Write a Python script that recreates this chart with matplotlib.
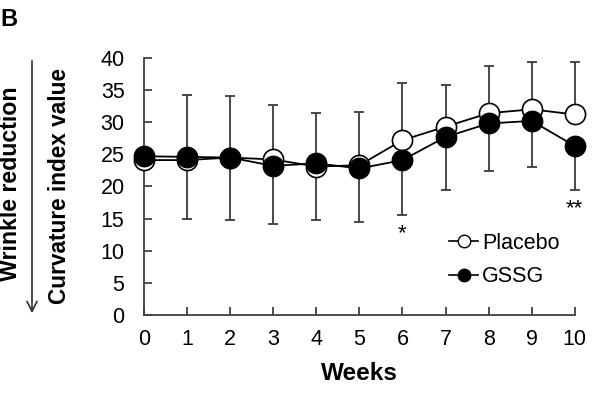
import matplotlib
matplotlib.use("Agg")
import matplotlib.pyplot as plt
from matplotlib.lines import Line2D

weeks = [0, 1, 2, 3, 4, 5, 6, 7, 8, 9, 10]
placebo = [24.1, 24.1, 24.5, 24.2, 23.1, 23.3, 27.2, 29.3, 31.4, 32.0, 31.2]
placebo_sd = [0, 10.1, 9.6, 8.5, 8.4, 8.3, 8.9, 6.5, 7.4, 7.4, 8.2]
gssg = [24.7, 24.6, 24.5, 23.2, 23.6, 22.8, 24.1, 27.7, 29.8, 30.2, 26.3]
gssg_sd = [0, 9.6, 9.7, 9.1, 8.8, 8.4, 8.6, 8.3, 7.4, 7.1, 6.9]
yticks = [0, 5, 10, 15, 20, 25, 30, 35, 40]

plt.rcParams['font.family'] = ['Liberation Sans', 'DejaVu Sans']

fig = plt.figure(figsize=(5.95, 3.94), dpi=100)
ax = fig.add_axes([0.242, 0.2005, 0.724, 0.6525])

ecol = '#3a3a3a'
zeros = [0] * len(weeks)
ax.errorbar(weeks, placebo, yerr=[zeros, placebo_sd], fmt='none', ecolor=ecol,
            elinewidth=1.3, capsize=3.5, capthick=1.3, zorder=1, clip_on=False)
ax.errorbar(weeks, gssg, yerr=[gssg_sd, zeros], fmt='none', ecolor=ecol,
            elinewidth=1.3, capsize=3.5, capthick=1.3, zorder=1, clip_on=False)
ax.plot(weeks, placebo, '-o', color='black', mfc='white', mec='black', mew=1.2,
        ms=14.5, lw=1.3, zorder=3, clip_on=False)
ax.plot(weeks, gssg, '-o', color='black', mfc='black', mec='black', mew=1.2,
        ms=14.5, lw=1.3, zorder=4, clip_on=False)

ax.set_xlim(0, 10)
ax.set_ylim(0, 40)
ax.set_xticks(weeks)
ax.set_yticks(yticks)
ax.tick_params(axis='both', direction='in', length=6, width=1.3, color='#404040',
               labelsize=15.5)
ax.tick_params(axis='x', pad=10)
ax.tick_params(axis='y', pad=14)
for s in ['top', 'right']:
    ax.spines[s].set_visible(False)
for s in ['left', 'bottom']:
    ax.spines[s].set_linewidth(1.3)
    ax.spines[s].set_color('#404040')

ax.set_xlabel('Weeks', fontsize=17.5, fontweight='bold', labelpad=8.5)

ax.text(6, 12.6, '*', ha='center', va='center', fontsize=16)
ax.text(10, 16.5, '**', ha='center', va='center', fontsize=16)

handles = [Line2D([], [], color='black', lw=1.2, marker='o', mfc='white', mec='black', ms=9),
           Line2D([], [], color='black', lw=1.2, marker='o', mfc='black', mec='black', ms=9)]
ax.legend(handles, ['Placebo', 'GSSG'], loc='center left', bbox_to_anchor=(0.708, 0.214),
          frameon=False, fontsize=15.5, handlelength=1.35, handletextpad=0.2,
          labelspacing=0.58, borderaxespad=0, borderpad=0)

fig.text(59 / 595, 1 - 186 / 394, 'Curvature index value', rotation=90, ha='center',
         va='center', fontsize=16.3, fontweight='bold')
fig.text(11 / 595, 1 - 184 / 394, 'Wrinkle reduction', rotation=90, ha='center',
         va='center', fontsize=16.7, fontweight='bold')
fig.add_artist(plt.Annotation('', xy=(32 / 595, 1 - 316 / 394), xytext=(32 / 595, 1 - 58 / 394),
                              xycoords='figure fraction', textcoords='figure fraction',
                              arrowprops=dict(arrowstyle='->', color='#303030', lw=1.2,
                                              mutation_scale=18)))
fig.text(0.0, 1 - 19 / 394, 'B', ha='left', va='center', fontsize=17, fontweight='bold')

fig.savefig('out.png', dpi=100)
